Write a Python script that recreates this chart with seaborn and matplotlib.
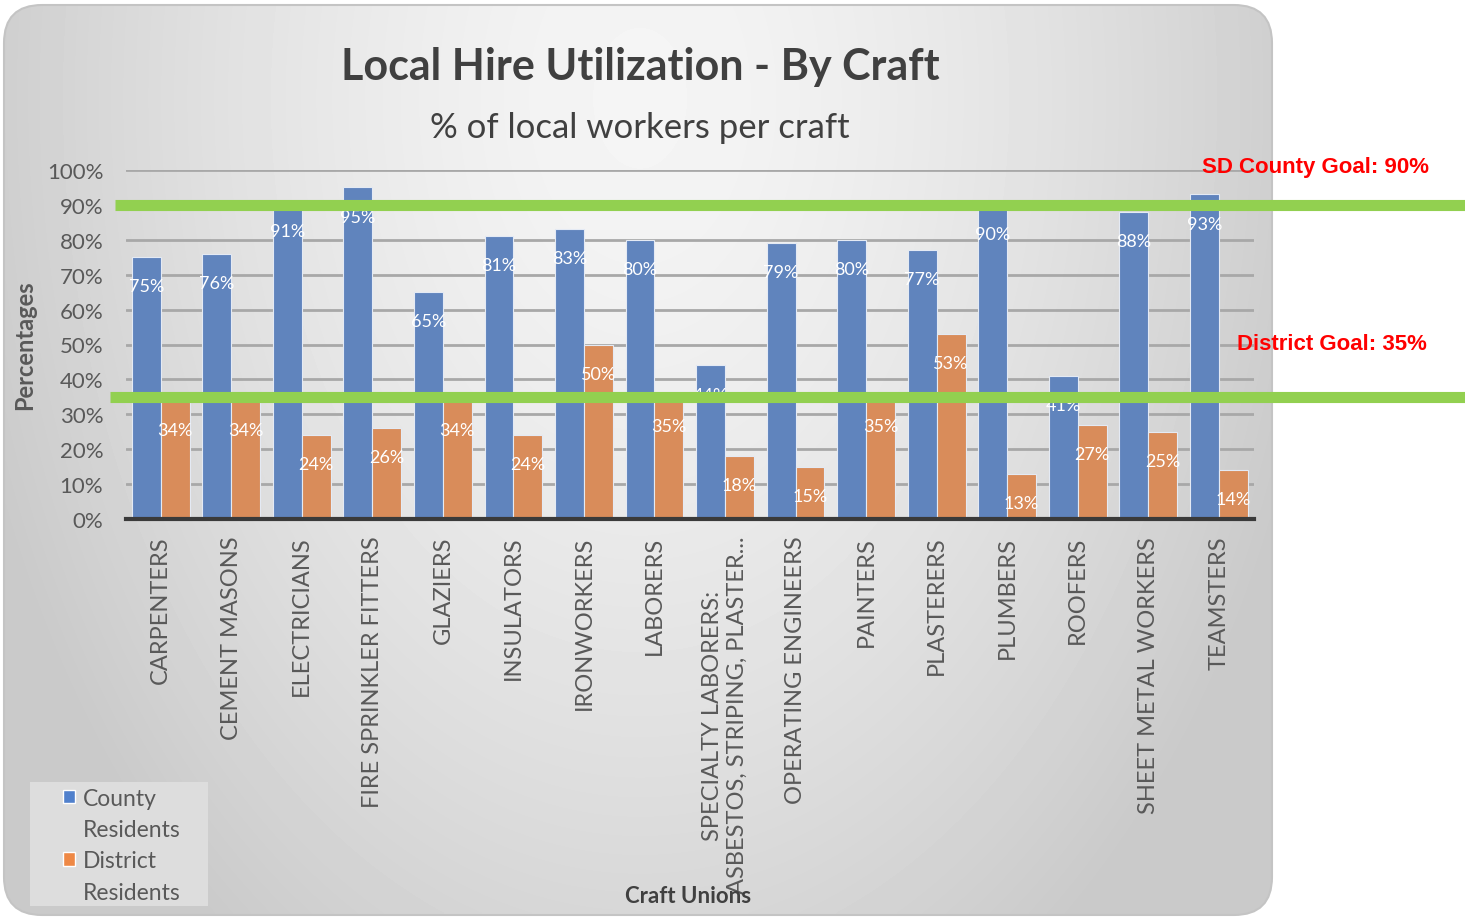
import numpy as np
import pandas as pd
import matplotlib
matplotlib.use("Agg")
import matplotlib.pyplot as plt
import matplotlib.transforms as mtransforms
from matplotlib.patches import FancyBboxPatch, Patch, Rectangle
import seaborn as sns

# data
crafts = ["CARPENTERS", "CEMENT MASONS", "ELECTRICIANS", "FIRE SPRINKLER FITTERS",
          "GLAZIERS", "INSULATORS", "IRONWORKERS", "LABORERS",
          "SPECIALTY LABORERS:\nASBESTOS, STRIPING, PLASTER...",
          "OPERATING ENGINEERS", "PAINTERS", "PLASTERERS", "PLUMBERS", "ROOFERS",
          "SHEET METAL WORKERS", "TEAMSTERS"]
county = [75, 76, 91, 95, 65, 81, 83, 80, 44, 79, 80, 77, 90, 41, 88, 93]
district = [34, 34, 24, 26, 34, 24, 50, 35, 18, 15, 35, 53, 13, 27, 25, 14]
series = ["County Residents", "District Residents"]
goals = [90, 35]
goal_labels = ["SD County Goal: 90%", "District Goal: 35%"]
yticks = [0, 10, 20, 30, 40, 50, 60, 70, 80, 90, 100]

df = pd.DataFrame({
    "craft": crafts * 2,
    "pct": county + district,
    "group": [series[0]] * len(crafts) + [series[1]] * len(crafts),
})

sns.set_theme(style="white")
plt.rcParams["font.family"] = ["Lato", "DejaVu Sans"]
txt = "#595959"
colors = ["#5080CC", "#EE8845"]

W, H = 1465, 920
fig = plt.figure(figsize=(W / 100, H / 100), dpi=100)

# rounded gray gradient panel behind the chart
bg = fig.add_axes([0, 0, 1, 1], zorder=-10)
bg.set_xlim(0, W)
bg.set_ylim(H, 0)
bg.axis("off")
panel = FancyBboxPatch((4, 6), 1268, 910, boxstyle="round,pad=0,rounding_size=38",
                       facecolor="none", edgecolor="#c4c4c4", lw=1.5)
bg.add_patch(panel)
yy, xx = np.mgrid[0:200, 0:300]
dist = np.sqrt(((xx - 150) / 165.0) ** 2 + ((yy - 20) / 230.0) ** 2)
shade = 0.96 - 0.17 * np.clip(dist, 0, 1) ** 1.5
im = bg.imshow(shade, cmap="gray", vmin=0, vmax=1, extent=(4, 1272, 916, 6),
               aspect="auto", interpolation="bilinear")
im.set_clip_path(panel)
# legend backdrop
bg.add_patch(Rectangle((30, 783), 178, 124, facecolor="#dddddd", edgecolor="none"))

ax = fig.add_axes([125.5 / W, 1 - 520 / H, (1254 - 125.5) / W, (520 - 171) / H])
ax.patch.set_alpha(0)

sns.barplot(data=df, x="craft", y="pct", hue="group", palette=colors,
            width=0.82, edgecolor="#e4eaf4", linewidth=0.8, ax=ax, legend=False)

ax.set_ylim(0, 100)
ax.set_xlim(-0.5, len(crafts) - 0.5)
ax.set_yticks(yticks)
ax.set_yticklabels([f"{v}%" for v in yticks], fontsize=16, color=txt)
ax.yaxis.grid(True, color="#a8a8a8", lw=2)
ax.set_axisbelow(True)
for s in ["top", "right", "left"]:
    ax.spines[s].set_visible(False)
ax.spines["bottom"].set_color("#3a3a3a")
ax.spines["bottom"].set_linewidth(3)
ax.tick_params(axis="both", length=0)
ax.tick_params(axis="y", pad=16)
ax.tick_params(axis="x", pad=12)
ax.set_xticks(range(len(crafts)))
ax.set_xticklabels(crafts, rotation=90, fontsize=17, color=txt, va="top",
                   ha="center", multialignment="center")

ax.set_ylabel("Percentages", fontsize=17, fontweight="bold", color=txt, labelpad=8)
ax.set_xlabel("")
fig.text(688 / W, 1 - 897 / H, "Craft Unions", ha="center", va="center",
         fontsize=16, fontweight="bold", color="#404040")

# data labels inside the bar tops
for cont in ax.containers:
    for bar in cont:
        h = bar.get_height()
        ax.annotate(f"{h:.0f}%", (bar.get_x() + bar.get_width() / 2, h),
                    xytext=(0, -21), textcoords="offset points", ha="center",
                    va="center", fontsize=13, color="white")

# goal lines run past the panel to the right edge
trans = mtransforms.blended_transform_factory(fig.transFigure, ax.transData)
for g, x0 in zip(goals, [115 / W, 110 / W]):
    ax.plot([x0, 1], [g, g], transform=trans, color="#92D050", lw=8,
            clip_on=False, zorder=10, solid_capstyle="butt")

red_font = ["Liberation Sans Narrow", "Liberation Sans", "DejaVu Sans"]
fig.text(1315 / W, 1 - 168 / H, goal_labels[0], ha="center", va="center",
         fontsize=16, fontweight="bold", color="#FF0000", family=red_font)
fig.text(1332 / W, 1 - 344 / H, goal_labels[1], ha="center", va="center",
         fontsize=16, fontweight="bold", color="#FF0000", family=red_font)

fig.text(640 / W, 1 - 67 / H, "Local Hire Utilization - By Craft", ha="center",
         va="center", fontsize=31, fontweight="bold", color="#404040")
fig.text(640 / W, 1 - 128 / H, "% of local workers per craft", ha="center",
         va="center", fontsize=25, color="#404040")

# legend: swatch on the first line of each two-line label
blank = Patch(facecolor="none", edgecolor="none")
handles = [Patch(facecolor=colors[0]), blank, Patch(facecolor=colors[1]), blank]
labels = ["County", "Residents", "District", "Residents"]
ax.legend(handles, labels, loc="upper left", bbox_to_anchor=(58 / W, 1 - 784 / H),
          bbox_transform=fig.transFigure, frameon=False, fontsize=16.5,
          labelcolor=txt, handlelength=0.55, handleheight=0.55, handletextpad=0.35,
          labelspacing=0.45, borderpad=0.2, borderaxespad=0)

fig.savefig("out.png", dpi=100)
